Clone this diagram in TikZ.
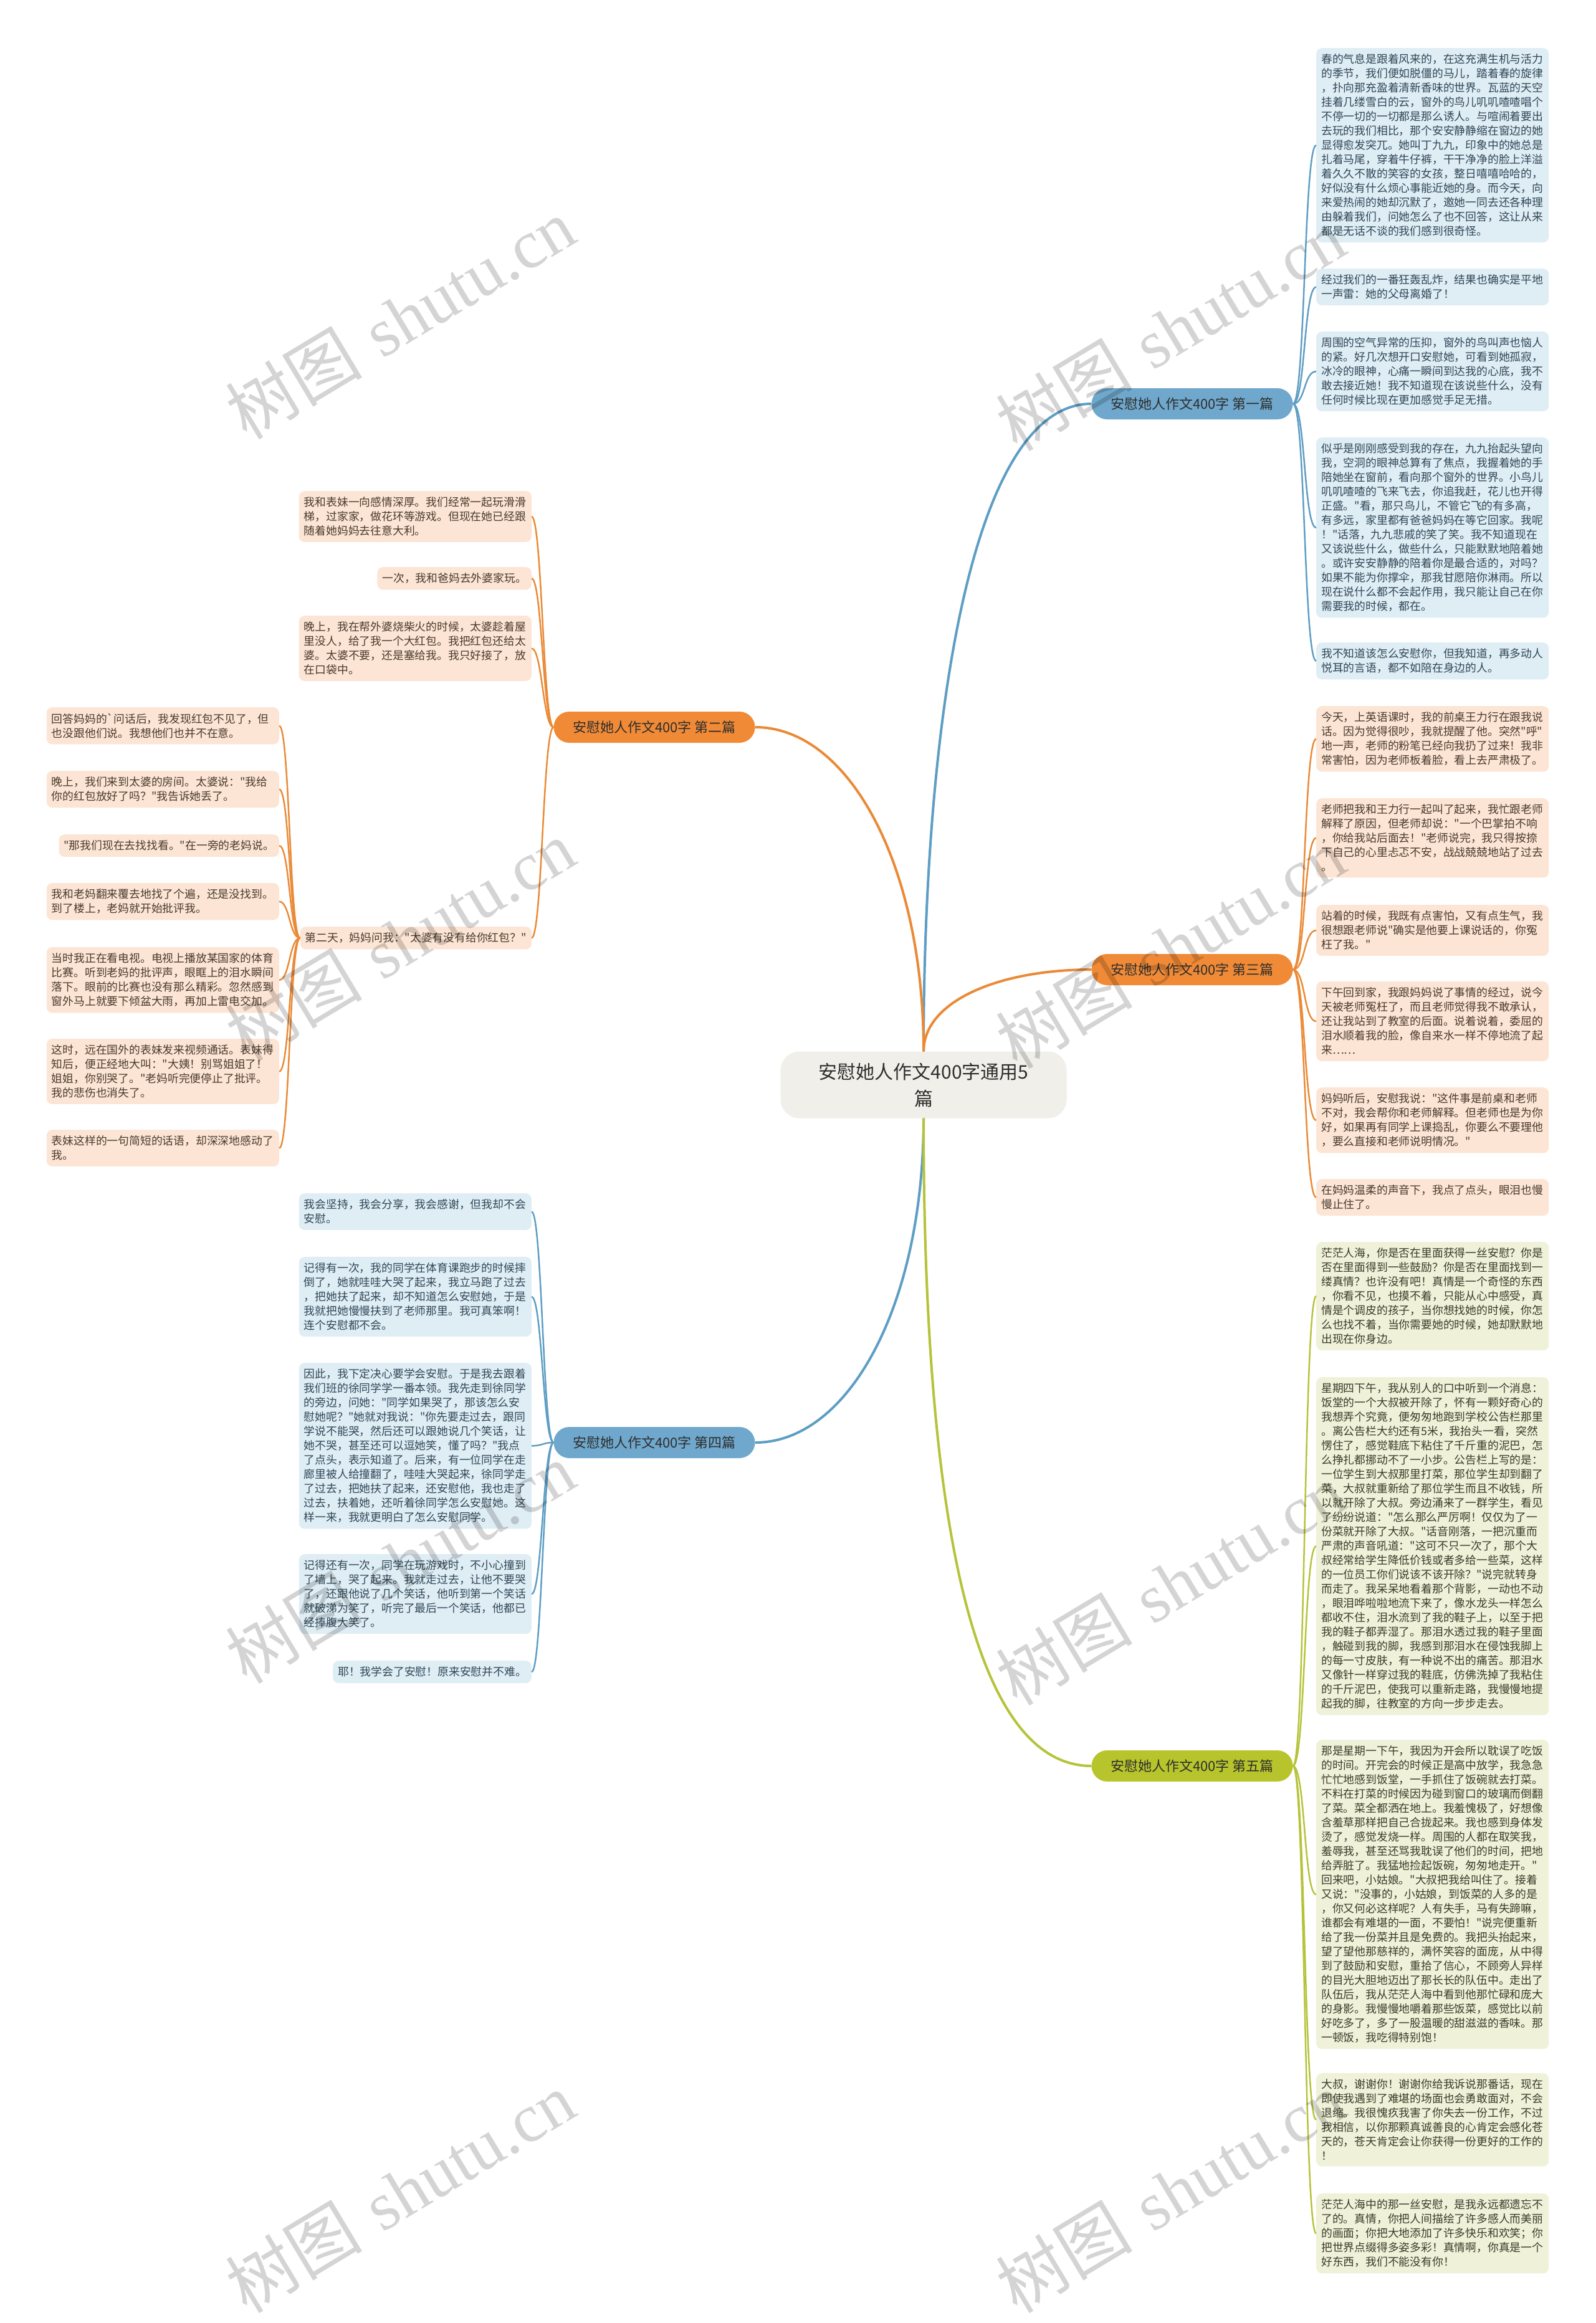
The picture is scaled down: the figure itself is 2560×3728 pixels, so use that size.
\documentclass[tikz,border=0pt]{standalone}
\usepackage{fontspec}
\newfontfamily\cjk{Noto Sans CJK SC}
\newfontfamily\wmserif{Liberation Serif}
\usetikzlibrary{calc}
\definecolor{bluenode}{HTML}{6FA8CC}
\definecolor{orangenode}{HTML}{F08A36}
\definecolor{greennode}{HTML}{B7C42C}
\definecolor{bline}{HTML}{5E9EC4}
\definecolor{oline}{HTML}{EA8A36}
\definecolor{gline}{HTML}{B6C33A}
\definecolor{lbfill}{HTML}{DFEDF5}
\definecolor{lofill}{HTML}{FCE5D4}
\definecolor{lgfill}{HTML}{EFF1D9}
\definecolor{lbtext}{HTML}{2F4756}
\definecolor{lotext}{HTML}{4A3A2E}
\definecolor{lgtext}{HTML}{3B3B2A}
\definecolor{centerfill}{HTML}{F0EFE9}
\definecolor{darktext}{HTML}{2E2E2E}
\newcommand\mmleaf{\cjk\fontsize{17.8pt}{23pt}\selectfont}
\newcommand\mmbranch{\cjk\fontsize{22pt}{26pt}\selectfont}
\newcommand\mmcenter{\cjk\fontsize{30pt}{43pt}\selectfont}
\tikzset{
  lfbase/.style={rounded corners=9pt, inner xsep=8pt, inner ysep=9.6pt, font=\mmleaf, align=left},
  fullw/.style={text width=357pt},
  lfblue/.style={lfbase, fill=lbfill, text=lbtext},
  lforange/.style={lfbase, fill=lofill, text=lotext},
  lfgreen/.style={lfbase, fill=lgfill, text=lgtext},
  brnode/.style={rounded corners=25pt, minimum width=323pt, minimum height=50pt, font=\mmbranch, text=darktext, inner sep=0pt},
  cnode/.style={rounded corners=30pt, minimum width=459pt, minimum height=107pt, fill=centerfill, font=\mmcenter, text=darktext, align=center},
  bl/.style={draw=bline, line width=2.5pt},
  ol/.style={draw=oline, line width=2.5pt},
  gl/.style={draw=gline, line width=2.5pt},
  mainl/.style={line width=4pt},
  wmark/.style={rotate=31, text=black, text opacity=0.17, font=\fontsize{110pt}{110pt}\selectfont},
}
\begin{document}
\begin{tikzpicture}[x=1pt,y=-1pt]
\fill[white] (0,0) rectangle (2560,3728);
\useasboundingbox (0,0) rectangle (2560,3728);

% center
\node[cnode] (c) at (1482,1741) {安慰她人作文400字通用5\\篇};

% branches
\node[brnode, fill=bluenode] (b1) at (1913,648) {安慰她人作文400字 第一篇};
\node[brnode, fill=orangenode] (b2) at (1050,1167) {安慰她人作文400字 第二篇};
\node[brnode, fill=orangenode] (b3) at (1913,1556) {安慰她人作文400字 第三篇};
\node[brnode, fill=bluenode] (b4) at (1050,2315) {安慰她人作文400字 第四篇};
\node[brnode, fill=greennode] (b5) at (1913,2834) {安慰她人作文400字 第五篇};

% ---------- branch 1 leaves
\node[lfblue, fullw, anchor=north west] (r1) at (2112,77) {春的气息是跟着风来的，在这充满生机与活力\\的季节，我们便如脱僵的马儿，踏着春的旋律\\，扑向那充盈着清新香味的世界。瓦蓝的天空\\挂着几缕雪白的云，窗外的鸟儿叽叽喳喳唱个\\不停一切的一切都是那么诱人。与喧闹着要出\\去玩的我们相比，那个安安静静缩在窗边的她\\显得愈发突兀。她叫丁九九，印象中的她总是\\扎着马尾，穿着牛仔裤，干干净净的脸上洋溢\\着久久不散的笑容的女孩，整日嘻嘻哈哈的，\\好似没有什么烦心事能近她的身。而今天，向\\来爱热闹的她却沉默了，邀她一同去还各种理\\由躲着我们，问她怎么了也不回答，这让从来\\都是无话不谈的我们感到很奇怪。};
\node[lfblue, fullw, anchor=north west] (r2) at (2112,431) {经过我们的一番狂轰乱炸，结果也确实是平地\\一声雷：她的父母离婚了！};
\node[lfblue, fullw, anchor=north west] (r3) at (2112,532) {周围的空气异常的压抑，窗外的鸟叫声也恼人\\的紧。好几次想开口安慰她，可看到她孤寂，\\冰冷的眼神，心痛一瞬间到达我的心底，我不\\敢去接近她！我不知道现在该说些什么，没有\\任何时候比现在更加感觉手足无措。};
\node[lfblue, fullw, anchor=north west] (r4) at (2112,702) {似乎是刚刚感受到我的存在，九九抬起头望向\\我，空洞的眼神总算有了焦点，我握着她的手\\陪她坐在窗前，看向那个窗外的世界。小鸟儿\\叽叽喳喳的飞来飞去，你追我赶，花儿也开得\\正盛。"看，那只鸟儿，不管它飞的有多高，\\有多远，家里都有爸爸妈妈在等它回家。我呢\\！"话落，九九悲戚的笑了笑。我不知道现在\\又该说些什么，做些什么，只能默默地陪着她\\。或许安安静静的陪着你是最合适的，对吗？\\如果不能为你撑伞，那我甘愿陪你淋雨。所以\\现在说什么都不会起作用，我只能让自己在你\\需要我的时候，都在。};
\node[lfblue, fullw, anchor=north west] (r5) at (2112,1031) {我不知道该怎么安慰你，但我知道，再多动人\\悦耳的言语，都不如陪在身边的人。};

% ---------- branch 3 leaves
\node[lforange, fullw, anchor=north west] (t1) at (2112,1133) {今天，上英语课时，我的前桌王力行在跟我说\\话。因为觉得很吵，我就提醒了他。突然"呼"\\地一声，老师的粉笔已经向我扔了过来！我非\\常害怕，因为老师板着脸，看上去严肃极了。};
\node[lforange, fullw, anchor=north west] (t2) at (2112,1281) {老师把我和王力行一起叫了起来，我忙跟老师\\解释了原因，但老师却说："一个巴掌拍不响\\，你给我站后面去！"老师说完，我只得按捺\\下自己的心里忐忑不安，战战兢兢地站了过去\\。};
\node[lforange, fullw, anchor=north west] (t3) at (2112,1452) {站着的时候，我既有点害怕，又有点生气，我\\很想跟老师说"确实是他要上课说话的，你冤\\枉了我。"};
\node[lforange, fullw, anchor=north west] (t4) at (2112,1575) {下午回到家，我跟妈妈说了事情的经过，说今\\天被老师冤枉了，而且老师觉得我不敢承认，\\还让我站到了教室的后面。说着说着，委屈的\\泪水顺着我的脸，像自来水一样不停地流了起\\来……};
\node[lforange, fullw, anchor=north west] (t5) at (2112,1745) {妈妈听后，安慰我说："这件事是前桌和老师\\不对，我会帮你和老师解释。但老师也是为你\\好，如果再有同学上课捣乱，你要么不要理他\\，要么直接和老师说明情况。"};
\node[lforange, fullw, anchor=north west] (t6) at (2112,1892) {在妈妈温柔的声音下，我点了点头，眼泪也慢\\慢止住了。};

% ---------- branch 5 leaves
\node[lfgreen, fullw, anchor=north west] (g1) at (2112,1993) {茫茫人海，你是否在里面获得一丝安慰？你是\\否在里面得到一些鼓励？你是否在里面找到一\\缕真情？也许没有吧！真情是一个奇怪的东西\\，你看不见，也摸不着，只能从心中感受，真\\情是个调皮的孩子，当你想找她的时候，你怎\\么也找不着，当你需要她的时候，她却默默地\\出现在你身边。};
\node[lfgreen, fullw, anchor=north west] (g2) at (2112,2210) {星期四下午，我从别人的口中听到一个消息：\\饭堂的一个大叔被开除了，怀有一颗好奇心的\\我想弄个究竟，便匆匆地跑到学校公告栏那里\\。离公告栏大约还有5米，我抬头一看，突然\\愣住了，感觉鞋底下粘住了千斤重的泥巴，怎\\么挣扎都挪动不了一小步。公告栏上写的是：\\一位学生到大叔那里打菜，那位学生却到翻了\\菜，大叔就重新给了那位学生而且不收钱，所\\以就开除了大叔。旁边涌来了一群学生，看见\\了纷纷说道："怎么那么严厉啊！仅仅为了一\\份菜就开除了大叔。"话音刚落，一把沉重而\\严肃的声音吼道："这可不只一次了，那个大\\叔经常给学生降低价钱或者多给一些菜，这样\\的一位员工你们说该不该开除？"说完就转身\\而走了。我呆呆地看着那个背影，一动也不动\\，眼泪哗啦啦地流下来了，像水龙头一样怎么\\都收不住，泪水流到了我的鞋子上，以至于把\\我的鞋子都弄湿了。那泪水透过我的鞋子里面\\，触碰到我的脚，我感到那泪水在侵蚀我脚上\\的每一寸皮肤，有一种说不出的痛苦。那泪水\\又像针一样穿过我的鞋底，仿佛洗掉了我粘住\\的千斤泥巴，使我可以重新走路，我慢慢地提\\起我的脚，往教室的方向一步步走去。};
\node[lfgreen, fullw, anchor=north west] (g3) at (2112,2792) {那是星期一下午，我因为开会所以耽误了吃饭\\的时间。开完会的时候正是高中放学，我急急\\忙忙地感到饭堂，一手抓住了饭碗就去打菜。\\不料在打菜的时候因为碰到窗口的玻璃而倒翻\\了菜。菜全都洒在地上。我羞愧极了，好想像\\含羞草那样把自己合拢起来。我也感到身体发\\烫了，感觉发烧一样。周围的人都在取笑我，\\羞辱我，甚至还骂我耽误了他们的时间，把地\\给弄脏了。我猛地捡起饭碗，匆匆地走开。"\\回来吧，小姑娘。"大叔把我给叫住了。接着\\又说："没事的，小姑娘，到饭菜的人多的是\\，你又何必这样呢？人有失手，马有失蹄嘛，\\谁都会有难堪的一面，不要怕！"说完便重新\\给了我一份菜并且是免费的。我把头抬起来，\\望了望他那慈祥的，满怀笑容的面庞，从中得\\到了鼓励和安慰，重拾了信心，不顾旁人异样\\的目光大胆地迈出了那长长的队伍中。走出了\\队伍后，我从茫茫人海中看到他那忙碌和庞大\\的身影。我慢慢地嚼着那些饭菜，感觉比以前\\好吃多了，多了一股温暖的甜滋滋的香味。那\\一顿饭，我吃得特别饱！};
\node[lfgreen, fullw, anchor=north west] (g4) at (2112,3327) {大叔，谢谢你！谢谢你给我诉说那番话，现在\\即使我遇到了难堪的场面也会勇敢面对，不会\\退缩。我很愧疚我害了你失去一份工作，不过\\我相信，以你那颗真诚善良的心肯定会感化苍\\天的，苍天肯定会让你获得一份更好的工作的\\！};
\node[lfgreen, fullw, anchor=north west] (g5) at (2112,3520) {茫茫人海中的那一丝安慰，是我永远都遗忘不\\了的。真情，你把人间描绘了许多感人而美丽\\的画面；你把大地添加了许多快乐和欢笑；你\\把世界点缀得多姿多彩！真情啊，你真是一个\\好东西，我们不能没有你！};

% ---------- branch 2 leaves
\node[lforange, fullw, anchor=north east] (a) at (853,788) {我和表妹一向感情深厚。我们经常一起玩滑滑\\梯，过家家，做花环等游戏。但现在她已经跟\\随着她妈妈去往意大利。};
\node[lforange, anchor=north east] (bb) at (853,910) {一次，我和爸妈去外婆家玩。};
\node[lforange, fullw, anchor=north east] (cc) at (853,988) {晚上，我在帮外婆烧柴火的时候，太婆趁着屋\\里没人，给了我一个大红包。我把红包还给太\\婆。太婆不要，还是塞给我。我只好接了，放\\在口袋中。};
\node[lforange, anchor=north east] (d) at (853,1487) {第二天，妈妈问我："太婆有没有给你红包？"};

\node[lforange, fullw, anchor=north east] (e1) at (448,1135) {回答妈妈的`问话后，我发现红包不见了，但\\也没跟他们说。我想他们也并不在意。};
\node[lforange, fullw, anchor=north east] (e2) at (448,1237) {晚上，我们来到太婆的房间。太婆说："我给\\你的红包放好了吗？"我告诉她丢了。};
\node[lforange, anchor=north east] (e3) at (448,1339) {"那我们现在去找找看。"在一旁的老妈说。};
\node[lforange, fullw, anchor=north east] (e4) at (448,1417) {我和老妈翻来覆去地找了个遍，还是没找到。\\到了楼上，老妈就开始批评我。};
\node[lforange, fullw, anchor=north east] (e5) at (448,1520) {当时我正在看电视。电视上播放某国家的体育\\比赛。听到老妈的批评声，眼眶上的泪水瞬间\\落下。眼前的比赛也没有那么精彩。忽然感到\\窗外马上就要下倾盆大雨，再加上雷电交加。};
\node[lforange, fullw, anchor=north east] (e6) at (448,1667) {这时，远在国外的表妹发来视频通话。表妹得\\知后，便正经地大叫："大姨！别骂姐姐了！\\姐姐，你别哭了。"老妈听完便停止了批评。\\我的悲伤也消失了。};
\node[lforange, fullw, anchor=north east] (e7) at (448,1813) {表妹这样的一句简短的话语，却深深地感动了\\我。};

% ---------- branch 4 leaves
\node[lfblue, fullw, anchor=north east] (f1) at (853,1915) {我会坚持，我会分享，我会感谢，但我却不会\\安慰。};
\node[lfblue, fullw, anchor=north east] (f2) at (853,2017) {记得有一次，我的同学在体育课跑步的时候摔\\倒了，她就哇哇大哭了起来，我立马跑了过去\\，把她扶了起来，却不知道怎么安慰她，于是\\我就把她慢慢扶到了老师那里。我可真笨啊！\\连个安慰都不会。};
\node[lfblue, fullw, anchor=north east] (f3) at (853,2187) {因此，我下定决心要学会安慰。于是我去跟着\\我们班的徐同学学一番本领。我先走到徐同学\\的旁边，问她："同学如果哭了，那该怎么安\\慰她呢？"她就对我说："你先要走过去，跟同\\学说不能哭，然后还可以跟她说几个笑话，让\\她不哭，甚至还可以逗她笑，懂了吗？"我点\\了点头，表示知道了。后来，有一位同学在走\\廊里被人给撞翻了，哇哇大哭起来，徐同学走\\了过去，把她扶了起来，还安慰他，我也走了\\过去，扶着她，还听着徐同学怎么安慰她。这\\样一来，我就更明白了怎么安慰同学。};
\node[lfblue, fullw, anchor=north east] (f4) at (853,2494) {记得还有一次，同学在玩游戏时，不小心撞到\\了墙上，哭了起来。我就走过去，让他不要哭\\了，还跟他说了几个笑话，他听到第一个笑话\\就破涕为笑了，听完了最后一个笑话，他都已\\经捧腹大笑了。};
\node[lfblue, anchor=north east] (f5) at (853,2665) {耶！我学会了安慰！原来安慰并不难。};

% ---------- connectors: center to branches
\draw[bl, mainl] (c.north) .. controls +(0,-500) and +(-200,0) .. (b1.west);
\draw[ol, mainl] (c.north) .. controls +(0,-300) and +(150,0) .. (b2.east);
\draw[ol, mainl] (c.north) .. controls +(0,-80) and +(-150,0) .. (b3.west);
\draw[bl, mainl] (c.south) .. controls +(0,300) and +(150,0) .. (b4.east);
\draw[gl, mainl] (c.south) .. controls +(0,600) and +(-200,0) .. (b5.west);

% branch 1
\foreach \n in {r1,r2,r3,r4,r5}
  \draw[bl] (b1.east) .. controls +(20,0) and +(-20,0) .. (\n.west);
% branch 3
\foreach \n in {t1,t2,t3,t4,t5,t6}
  \draw[ol] (b3.east) .. controls +(20,0) and +(-20,0) .. (\n.west);
% branch 5
\foreach \n in {g1,g2,g3,g4,g5}
  \draw[gl] (b5.east) .. controls +(20,0) and +(-20,0) .. (\n.west);
% branch 2
\foreach \n in {a,bb,cc,d}
  \draw[ol] (b2.west) .. controls +(-17,0) and +(17,0) .. (\n.east);
\foreach \n in {e1,e2,e3,e4,e5,e6,e7}
  \draw[ol] (d.west) .. controls +(-17,0) and +(17,0) .. (\n.east);
% branch 4
\foreach \n in {f1,f2,f3,f4,f5}
  \draw[bl] (b4.west) .. controls +(-17,0) and +(17,0) .. (\n.east);

% ---------- watermarks
\foreach \wx/\wy [count=\i] in {642/511, 1878/530, 642/1509, 1878/1521, 642/2508, 1878/2543, 642/3518, 1878/3518}
  \node[wmark] (wm\i) at (\wx,\wy) {{\cjk 树图} {\wmserif shutu.cn}};
\end{tikzpicture}
\end{document}
